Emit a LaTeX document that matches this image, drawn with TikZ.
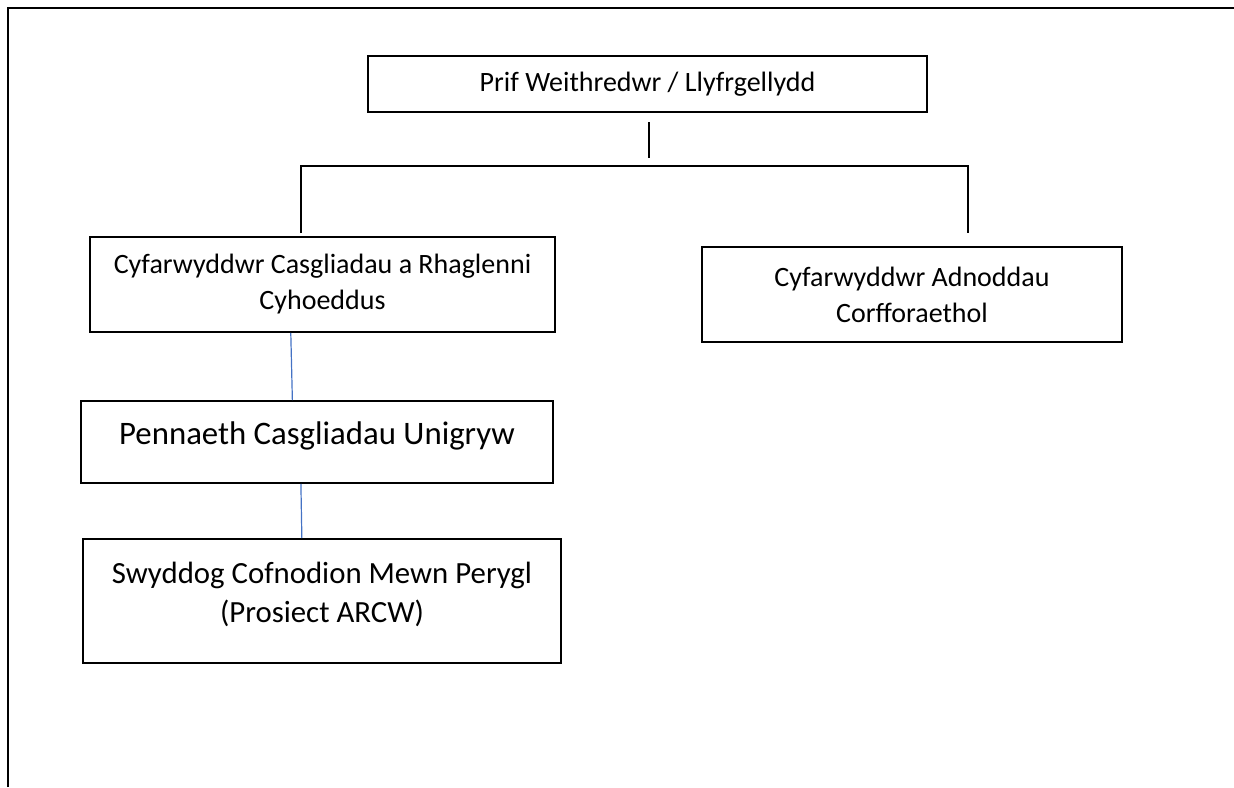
\documentclass[tikz,border=0pt]{standalone}
\usepackage{fontspec}
\setmainfont{Carlito}
\usetikzlibrary{calc}
\definecolor{linkblue}{RGB}{68,114,196}
\tikzset{
	postbox/.style={draw,line width=0.8pt,align=center,font=\fontsize{14}{18}\selectfont},
	bigbox/.style={postbox,font=\fontsize{16.4}{20}\selectfont},
	conn/.style={line width=0.8pt},
	bluelink/.style={draw=linkblue,line width=0.6pt},
	pageedge/.style={line width=1.3pt}
}
\begin{document}
\begin{tikzpicture}[x=0.5pt,y=-0.5pt]
			\useasboundingbox (0,0) rectangle (1234,787);
			\draw[pageedge] (8,787) -- (8,8) -- (1234,8);

			\node[postbox,minimum width=279.5pt,minimum height=28pt] (chief) at (647.5,84) {Prif Weithredwr / Llyfrgellydd};
			\node[postbox,minimum width=232.5pt,minimum height=47.5pt] (colls) at (322.5,284.5) {Cyfarwyddwr Casgliadau a Rhaglenni\\Cyhoeddus};
			\node[postbox,minimum width=210pt,minimum height=47.5pt] (corp) at (912,294.5) {Cyfarwyddwr Adnoddau\\Corfforaethol};
			\node[bigbox,minimum width=236pt,minimum height=41pt,text depth=9pt] (head) at (317,442) {Pennaeth Casgliadau Unigryw};
			\node[bigbox,font=\fontsize{15.4}{19.5}\selectfont,minimum width=239pt,minimum height=62pt,text depth=9pt] (officer) at (322,601) {Swyddog Cofnodion Mewn Perygl\\(Prosiect ARCW)};

			\coordinate (stemtop) at (649,122);
			\coordinate (stembot) at (649,158);
			\coordinate (busL) at (301,166);
			\coordinate (busR) at (968,166);
			\coordinate (legL) at (301,233);
			\coordinate (legR) at (968,233);

			\draw[conn] (stemtop) -- (stembot);
			\draw[conn] (legL) -- (busL) -- (busR) -- (legR);

			\draw[bluelink] ($(colls.south west)!.432!(colls.south east)$) -- ($(head.north west)!.448!(head.north east)$);
			\draw[bluelink] ($(head.south west)!.466!(head.south east)$) -- ($(officer.north west)!.458!(officer.north east)$);

			% \draw[help lines,step=50] (0,0) grid (1234,787);
		\end{tikzpicture}
\end{document}
